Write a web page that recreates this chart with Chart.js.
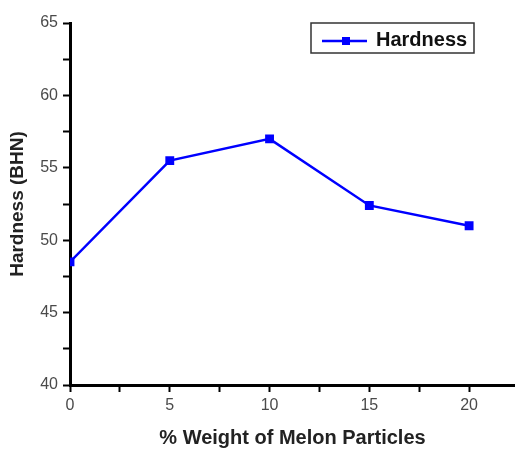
<!DOCTYPE html>
<html>
<head>
<meta charset="utf-8">
<script src="https://cdn.jsdelivr.net/npm/chart.js@4"></script>
<style>
  html, body { margin: 0; padding: 0; background: #fff; }
  #wrap { width: 515px; height: 450px; }
</style>
</head>
<body>
<div id="wrap"><canvas id="grafico" width="515" height="450"></canvas></div>
<script>
// datos
const pesoMelon = [0, 5, 10, 15, 20];
const dureza    = [48.5, 55.5, 57.0, 52.4, 51.0];
const serieNombre = 'Hardness';

const AZUL = '#0000ff';
const FUENTE = '"Liberation Sans", Arial, sans-serif';

// leyenda con recuadro (arriba a la derecha)
const leyendaCaja = {
  id: 'leyendaCaja',
  afterDraw(chart) {
    const ctx = chart.ctx;
    const x = 311, y = 23, w = 163, h = 30;
    ctx.save();
    ctx.fillStyle = '#fff';
    ctx.fillRect(x, y, w, h);
    ctx.strokeStyle = '#333';
    ctx.lineWidth = 1.5;
    ctx.strokeRect(x, y, w, h);
    const cy = 41;
    ctx.strokeStyle = AZUL;
    ctx.lineWidth = 2.5;
    ctx.beginPath(); ctx.moveTo(322, cy); ctx.lineTo(367, cy); ctx.stroke();
    ctx.fillStyle = AZUL;
    ctx.fillRect(342, cy - 4, 8, 8);
    ctx.fillStyle = '#111';
    ctx.font = 'bold 20px ' + FUENTE;
    ctx.textBaseline = 'alphabetic';
    ctx.fillText(serieNombre, 376, 46);
    ctx.restore();
  }
};

new Chart(document.getElementById('grafico'), {
  type: 'line',
  data: {
    datasets: [{
      label: serieNombre,
      data: pesoMelon.map((x, i) => ({ x, y: dureza[i] })),
      borderColor: AZUL,
      backgroundColor: AZUL,
      borderWidth: 2.5,
      pointStyle: 'rect',
      pointRadius: 4.5,
      pointHoverRadius: 4.5,
      tension: 0,
      fill: false
    }]
  },
  options: {
    responsive: false,
    animation: false,
    layout: { autoPadding: false, padding: { top: 23, right: 0, bottom: 0, left: 0 } },
    plugins: { legend: { display: false }, tooltip: { enabled: false } },
    scales: {
      x: {
        type: 'linear',
        min: 0, max: 22.3,
        afterFit: (s) => { s.height = 65; s.paddingLeft = 0; s.paddingRight = 0; },
        border: { display: true, color: '#000', width: 3 },
        grid: { display: true, drawOnChartArea: false, drawTicks: true, tickLength: 7, tickColor: '#000', tickWidth: 2 },
        ticks: {
          stepSize: 2.5, includeBounds: false, maxRotation: 0, autoSkip: false,
          color: '#4a4a4a', font: { family: FUENTE, size: 16 }, padding: 4,
          callback: (v) => (v % 5 === 0 ? String(v) : '')
        },
        title: { display: true, text: '% Weight of Melon Particles', color: '#222',
                 font: { family: FUENTE, size: 20, weight: 'bold' }, padding: { top: 0, bottom: 0 } }
      },
      y: {
        min: 40, max: 65,
        afterFit: (s) => { s.width = 70; },
        border: { display: true, color: '#000', width: 3 },
        grid: { display: true, drawOnChartArea: false, drawTicks: true, tickLength: 7, tickColor: '#000', tickWidth: 2 },
        ticks: {
          stepSize: 2.5, includeBounds: false, autoSkip: false,
          color: '#4a4a4a', font: { family: FUENTE, size: 16 }, padding: 5,
          callback: (v) => (v % 5 === 0 ? String(v) : '')
        },
        title: { display: true, text: 'Hardness (BHN)', color: '#222',
                 font: { family: FUENTE, size: 19, weight: 'bold' }, padding: { top: 6, bottom: 0 } }
      }
    }
  },
  plugins: [leyendaCaja]
});
</script>
</body>
</html>
